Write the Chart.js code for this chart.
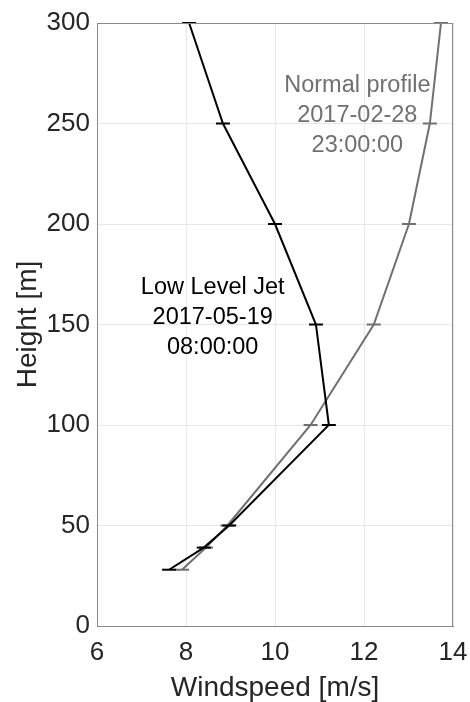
<!DOCTYPE html>
<html>
<head>
<meta charset="utf-8">
<script src="https://cdn.jsdelivr.net/npm/chart.js@4"></script>
<style>
  html,body{margin:0;padding:0;background:#fff;}
  #wrap{width:470px;height:702px;}
</style>
</head>
<body>
<div id="wrap"><canvas id="c" width="470" height="702"></canvas></div>
<script>
/* 风廓线数据 */
const heights = [28, 39, 50, 100, 150, 200, 250, 300];
const lljSpeed = [7.62, 8.40, 8.97, 11.21, 10.92, 10.0, 8.83, 8.07];
const normalSpeed = [7.91, 8.45, 8.93, 10.80, 12.22, 13.01, 13.48, 13.73];
const xTicks = [6, 8, 10, 12, 14];
const yTicks = [0, 50, 100, 150, 200, 250, 300];
const lljLabel = ['Low Level Jet', '2017-05-19', '08:00:00'];
const normalLabel = ['Normal profile', '2017-02-28', '23:00:00'];

const FONT = 'Liberation Sans, Arial, Helvetica, sans-serif';
const toPts = (xs) => xs.map((v, i) => ({ x: v, y: heights[i] }));

// 文本注释 + 边框
const annot = {
  id: 'annot',
  afterDatasetsDraw(chart) {
    const { ctx, chartArea: a, scales: { x, y } } = chart;
    ctx.save();
    ctx.strokeStyle = '#8a8a8a';
    ctx.lineWidth = 1;
    ctx.strokeRect(a.left + 0.5, a.top + 0.5, a.right - a.left - 1, a.bottom - a.top);
    ctx.font = '23.5px ' + FONT;
    ctx.textAlign = 'center';
    ctx.textBaseline = 'middle';
    ctx.fillStyle = '#000';
    lljLabel.forEach((t, i) => ctx.fillText(t, x.getPixelForValue(8.6), y.getPixelForValue(168.5) + i * 30));
    ctx.fillStyle = '#707070';
    normalLabel.forEach((t, i) => ctx.fillText(t, x.getPixelForValue(11.85), y.getPixelForValue(269) + i * 30));
    ctx.restore();
  }
};

new Chart(document.getElementById('c').getContext('2d'), {
  type: 'scatter',
  data: {
    datasets: [
      { label: 'LLJ', data: toPts(lljSpeed), showLine: true, borderColor: '#000', backgroundColor: '#000', clip: 8,
        borderWidth: 2, pointStyle: 'line', pointRadius: 7, pointBorderWidth: 2, tension: 0 },
      { label: 'Normal', data: toPts(normalSpeed), showLine: true, borderColor: '#707070', backgroundColor: '#707070', clip: 8,
        borderWidth: 2, pointStyle: 'line', pointRadius: 7, pointBorderWidth: 2, tension: 0 }
    ]
  },
  options: {
    responsive: false, animation: false,
    layout: { padding: { left: 0, top: 23, right: 17, bottom: 0 } },
    plugins: { legend: { display: false }, tooltip: { enabled: false } },
    scales: {
      x: {
        type: 'linear', min: 6, max: 14,
        afterBuildTicks: (s) => { s.ticks = xTicks.map(v => ({ value: v })); },
        afterFit: (s) => { s.height = 76; s.paddingLeft = 0; s.paddingRight = 0; },
        grid: { color: '#e8e8e8', drawTicks: false },
        border: { color: '#8a8a8a' },
        ticks: { color: '#262626', font: { family: FONT, size: 26 }, padding: 11, maxRotation: 0 },
        title: { display: true, text: 'Windspeed [m/s]', color: '#262626', font: { family: FONT, size: 28, lineHeight: 1.0 }, padding: { top: 0, bottom: 0 } }
      },
      y: {
        type: 'linear', min: 0, max: 300,
        afterBuildTicks: (s) => { s.ticks = yTicks.map(v => ({ value: v })); },
        afterFit: (s) => { s.width = 97; s.paddingTop = 0; s.paddingBottom = 0; },
        grid: { color: '#e8e8e8', drawTicks: false },
        border: { color: '#8a8a8a' },
        ticks: { color: '#262626', font: { family: FONT, size: 26 }, padding: 7 },
        title: { display: true, text: 'Height [m]', color: '#262626', font: { family: FONT, size: 28 }, padding: { top: 11, bottom: 0 } }
      }
    }
  },
  plugins: [annot]
});
</script>
</body>
</html>
